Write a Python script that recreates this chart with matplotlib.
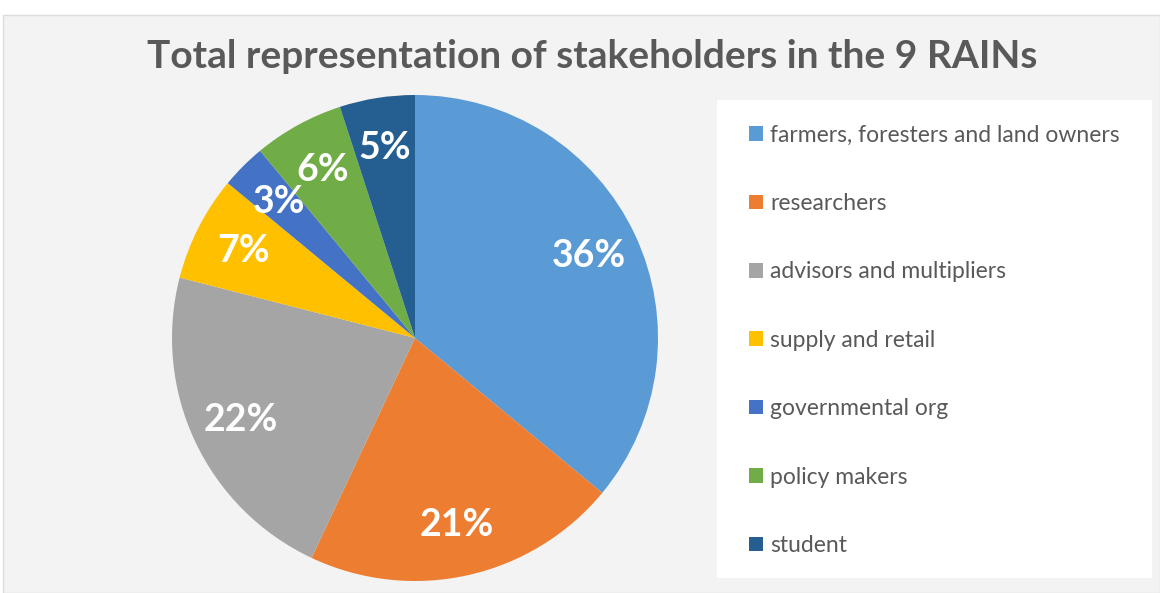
import matplotlib
matplotlib.use("Agg")
import matplotlib.pyplot as plt
from matplotlib.patches import Rectangle

# Data
categories = ["farmers, foresters and land owners", "researchers", "advisors and multipliers",
              "supply and retail", "governmental org", "policy makers", "student"]
shares = [36, 21, 22, 7, 3, 6, 5]
colors = ["#5B9BD5", "#ED7D31", "#A5A5A5", "#FFC000", "#4472C4", "#70AD47", "#255E91"]
title = "Total representation of stakeholders in the 9 RAINs"

W, H = 1160, 593
fig = plt.figure(figsize=(W / 100, H / 100), dpi=100, facecolor="white")
plt.rcParams['font.family'] = ['Lato', 'DejaVu Sans']

# light panel behind the chart
fig.patches.append(Rectangle((3 / W, 0), 1 - 3 / W, (H - 15) / H, transform=fig.transFigure,
                             facecolor="#f3f3f3", edgecolor="#dcdcdc", lw=1, zorder=-2))
# white legend box
fig.patches.append(Rectangle((717 / W, (H - 578) / H), 435 / W, 478 / H, transform=fig.transFigure,
                             facecolor="white", edgecolor="none", zorder=-1))

fig.text(592 / W, 1 - 57 / H, title, ha="center", va="center", fontsize=28,
         fontweight="bold", color="#595959")

cx, cy, r = 415, 593 - 338, 243
ax = fig.add_axes([(cx - r) / W, (cy - r) / H, 2 * r / W, 2 * r / H])
ax.patch.set_visible(False)
wedges, texts, autotexts = ax.pie(shares, colors=colors, startangle=90, counterclock=False,
                                  autopct="%d%%", pctdistance=0.79,
                                  wedgeprops=dict(linewidth=0))
for t in autotexts:
    t.set_color("white")
    t.set_fontsize(27)
    t.set_fontweight("bold")
ax.set_xlim(-1, 1)
ax.set_ylim(-1, 1)
ax.set_aspect("equal")
ax.axis("off")

leg = fig.legend(wedges, categories, loc="upper left", bbox_to_anchor=(738 / W, 1 - 113 / H),
                 frameon=False, fontsize=16.5, labelcolor="#595959", labelspacing=2.07,
                 handlelength=0.6, handleheight=0.6, handletextpad=0.3, borderpad=0)

fig.savefig("out.png", dpi=100, facecolor="white")
